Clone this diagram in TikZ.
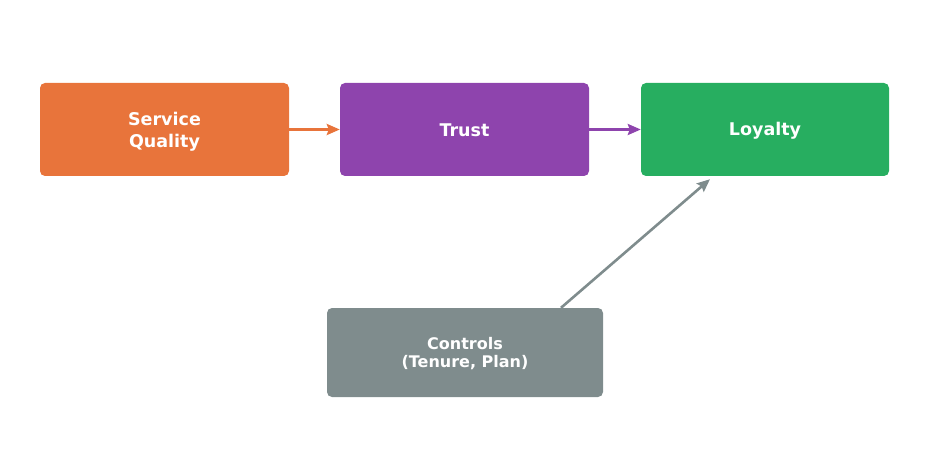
\documentclass[tikz,border=0pt]{standalone}
\usepackage{fontspec}
\setmainfont{DejaVu Sans}
\usetikzlibrary{arrows.meta}
\definecolor{corange}{HTML}{E8743B}
\definecolor{cpurple}{HTML}{8E44AD}
\definecolor{cgreen}{HTML}{27AE60}
\definecolor{cgray}{HTML}{7F8C8D}
\newcommand{\twolines}[3]{\raisebox{#1}[\height][\depth]{\begin{tabular}{@{}c@{}}#2\\#3\end{tabular}}}
\newcommand{\oneline}[2]{\raisebox{#1}[\height][\depth]{#2}}
\begin{document}
\begin{tikzpicture}[x=1pt,y=-1pt,
  boxst/.style={rounded corners=5pt, inner sep=0pt, text=white, font=\fontsize{17.5}{22}\selectfont\bfseries, align=center},
  arr/.style={line width=2.6pt, -{Stealth[length=13pt,width=11pt,inset=2pt]}}]
\useasboundingbox (0,0) rectangle (929,449);
\node[boxst, fill=corange, minimum width=249pt, minimum height=93pt] (sq) at (164.5,129.5) {\twolines{-2.5pt}{Service}{Quality}};
\node[boxst, fill=cpurple, minimum width=249pt, minimum height=93pt] (tr) at (464.5,129.5) {\oneline{-1pt}{Trust}};
\node[boxst, fill=cgreen, minimum width=248pt, minimum height=93pt] (lo) at (765,129.5) {\oneline{-1pt}{Loyalty}};
\node[boxst, fill=cgray, minimum width=276pt, minimum height=89pt, font=\fontsize{16}{18}\selectfont\bfseries] (ct) at (465,352.5) {\twolines{-2.5pt}{Controls}{(Tenure, Plan)}};
\draw[arr, corange] (sq.east) -- (tr.west);
\draw[arr, cpurple] (tr.east) -- (lo.west);
\draw[arr, cgray] ([xshift=96pt]ct.north) -- ([xshift=-55pt,yshift=-3pt]lo.south);
\end{tikzpicture}
\end{document}
